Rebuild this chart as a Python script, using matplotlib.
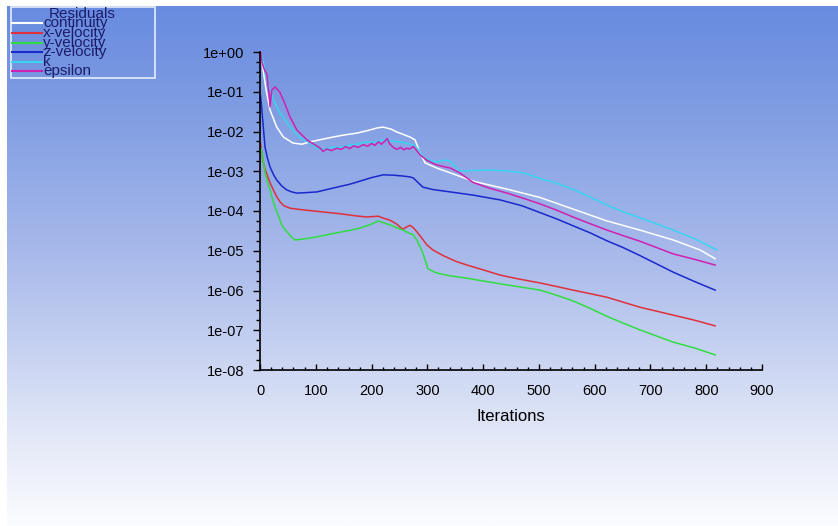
import numpy as np
import matplotlib
matplotlib.use("Agg")
import matplotlib.pyplot as plt
from matplotlib.lines import Line2D
from matplotlib.patches import Rectangle
from matplotlib.ticker import FixedLocator, FuncFormatter, MultipleLocator

plt.rcParams['font.family'] = ['Liberation Sans', 'DejaVu Sans']

# residual histories (iteration, log10 of residual)
cont_it = [1, 5, 11, 18, 30, 42, 59, 75, 90, 110, 131, 150, 174, 195, 210, 221, 235, 245, 258, 269,
           278, 287, 296, 317, 341, 382, 443, 502, 561, 622, 681, 741, 789, 816]
cont_lg = [-0.08, -0.4, -0.96, -1.46, -1.89, -2.14, -2.29, -2.32, -2.26, -2.2, -2.14, -2.09, -2.04,
           -1.97, -1.91, -1.89, -1.94, -2.01, -2.08, -2.14, -2.21, -2.54, -2.79, -2.92, -3.04, -3.25,
           -3.45, -3.66, -3.95, -4.25, -4.48, -4.73, -4.98, -5.2]

xvel_it = [1, 3, 5, 9, 14, 19, 24, 30, 36, 42, 54, 70, 90, 110, 131, 150, 170, 191, 203, 212, 221,
           233, 245, 256, 263, 269, 275, 281, 290, 299, 310, 328, 350, 371, 400, 430, 460, 502, 532,
           561, 592, 622, 681, 741, 780, 816]
xvel_lg = [-2.3, -2.5, -2.72, -2.95, -3.14, -3.32, -3.47, -3.64, -3.77, -3.86, -3.93, -3.96, -3.99,
           -4.02, -4.05, -4.08, -4.12, -4.15, -4.14, -4.13, -4.18, -4.23, -4.33, -4.46, -4.4, -4.36,
           -4.42, -4.52, -4.68, -4.85, -4.98, -5.12, -5.26, -5.36, -5.48, -5.61, -5.7, -5.81, -5.9,
           -5.99, -6.08, -6.17, -6.42, -6.62, -6.75, -6.89]

yvel_it = [1, 3, 6, 9, 13, 18, 22, 27, 33, 39, 45, 50, 57, 63, 80, 102, 130, 160, 179, 200, 212, 222,
           233, 245, 256, 266, 275, 282, 287, 292, 296, 301, 310, 317, 340, 371, 400, 443, 502, 532,
           561, 592, 622, 651, 681, 741, 780, 816]
yvel_lg = [-2.4, -2.5, -2.75, -3.04, -3.25, -3.47, -3.68, -3.9, -4.12, -4.35, -4.47, -4.55, -4.66,
           -4.73, -4.7, -4.65, -4.57, -4.49, -4.43, -4.33, -4.25, -4.3, -4.35, -4.42, -4.48, -4.55,
           -4.6, -4.75, -4.9, -5.06, -5.23, -5.45, -5.52, -5.56, -5.63, -5.69, -5.76, -5.86, -5.99,
           -6.12, -6.26, -6.45, -6.65, -6.82, -6.99, -7.3, -7.45, -7.62]

zvel_it = [1, 3, 6, 9, 13, 18, 24, 30, 39, 48, 57, 66, 80, 102, 120, 138, 160, 179, 200, 221, 240,
           256, 268, 275, 283, 292, 310, 341, 382, 430, 470, 502, 532, 561, 592, 622, 651, 681, 741,
           780, 816]
zvel_lg = [-1.1, -1.4, -1.9, -2.39, -2.65, -2.89, -3.08, -3.22, -3.37, -3.47, -3.52, -3.55, -3.54,
           -3.52, -3.46, -3.4, -3.33, -3.25, -3.16, -3.09, -3.1, -3.12, -3.14, -3.17, -3.28, -3.4,
           -3.46, -3.52, -3.6, -3.72, -3.87, -4.04, -4.2, -4.37, -4.55, -4.75, -4.92, -5.12, -5.54,
           -5.78, -5.99]

k_it = [3, 6, 12, 24, 36, 54, 72, 90, 102, 115, 131, 145, 161, 175, 191, 205, 221, 236, 251, 263,
        275, 284, 292, 305, 317, 330, 341, 358, 380, 412, 440, 472, 502, 532, 561, 592, 622, 651,
        681, 741, 780, 819]
k_lg = [-0.1, -0.25, -0.7, -1.2, -1.54, -1.89, -2.16, -2.29, -2.42, -2.45, -2.39, -2.4, -2.34, -2.32,
        -2.26, -2.27, -2.21, -2.24, -2.26, -2.3, -2.34, -2.45, -2.64, -2.72, -2.77, -2.72, -2.74,
        -3.0, -2.98, -2.97, -2.99, -3.04, -3.18, -3.3, -3.45, -3.65, -3.85, -4.02, -4.17, -4.48,
        -4.7, -4.98]

eps_it = [1, 4, 8, 12, 16, 18, 21, 27, 35, 42, 54, 66, 84, 100, 108, 113, 120, 128, 138, 146, 153,
          161, 168, 176, 185, 193, 200, 206, 212, 218, 224, 228, 232, 238, 245, 252, 258, 263, 268,
          275, 281, 287, 299, 310, 317, 328, 341, 358, 382, 410, 443, 472, 502, 532, 561, 592, 622,
          651, 681, 741, 780, 816]
eps_lg = [0.0, -0.3, -0.45, -0.55, -1.0, -1.38, -0.96, -0.88, -1.0, -1.21, -1.64, -1.96, -2.21,
          -2.35, -2.42, -2.5, -2.44, -2.48, -2.42, -2.45, -2.38, -2.43, -2.36, -2.4, -2.33, -2.37,
          -2.3, -2.35, -2.26, -2.32, -2.24, -2.18, -2.3, -2.39, -2.45, -2.4, -2.46, -2.42, -2.44,
          -2.38, -2.48, -2.59, -2.72, -2.8, -2.84, -2.88, -2.92, -3.04, -3.28, -3.42, -3.55, -3.68,
          -3.82, -3.98, -4.15, -4.32, -4.48, -4.62, -4.76, -5.08, -5.22, -5.36]

names = ['continuity', 'x-velocity', 'y-velocity', 'z-velocity', 'k', 'epsilon']
colors = ['#ffffff', '#e0303a', '#30dd40', '#1a28cc', '#38d4f0', '#d020b0']
series = [(cont_it, cont_lg), (xvel_it, xvel_lg), (yvel_it, yvel_lg),
          (zvel_it, zvel_lg), (k_it, k_lg), (eps_it, eps_lg)]

W, H = 838, 526
fig = plt.figure(figsize=(W / 100, H / 100), dpi=100)
fig.patch.set_facecolor('white')

# gradient background (blue at the top fading to white)
bg = fig.add_axes([7 / W, 0, 1 - 7 / W, 1 - 6 / H], zorder=0)
rows = np.linspace(6, 526, 400)
stops_y = [6, 100, 260, 440, 526]
stops_c = np.array([[104, 139, 224], [125, 155, 226], [170, 187, 235],
                    [228, 233, 248], [251, 252, 255]]) / 255.0
grad = np.stack([np.interp(rows, stops_y, stops_c[:, i]) for i in range(3)], axis=1)
bg.imshow(grad[:, None, :], aspect='auto', interpolation='bilinear')
bg.set_axis_off()

# plot area in pixel terms
x0, x1, y0, y1 = 260, 762, 52, 370
ax = fig.add_axes([x0 / W, 1 - y1 / H, (x1 - x0) / W, (y1 - y0) / H], zorder=1)
ax.set_facecolor('none')

for (it, lg), c in zip(series, colors):
    ax.plot(it, 10.0 ** np.array(lg), color=c, lw=1.1)

ax.set_yscale('log')
ax.set_ylim(1e-8, 1)
ax.set_xlim(0, 900)
ax.xaxis.set_major_locator(MultipleLocator(100))
ax.xaxis.set_minor_locator(MultipleLocator(20))
ax.yaxis.set_major_locator(FixedLocator([10.0 ** e for e in range(-8, 1)]))
ax.yaxis.set_minor_locator(FixedLocator([10.0 ** (e + f) for e in range(-8, 0)
                                         for f in (0.25, 0.5, 0.75)]))
ax.yaxis.set_major_formatter(FuncFormatter(lambda v, p: f"{v:.0e}"))
ax.yaxis.set_minor_formatter(FuncFormatter(lambda v, p: ""))

for s in ('top', 'right'):
    ax.spines[s].set_visible(False)
for s in ('left', 'bottom'):
    ax.spines[s].set_linewidth(1.2)
    ax.spines[s].set_color('black')

ax.tick_params(axis='y', which='major', direction='out', length=5, width=1, pad=6, labelsize=10.5)
ax.tick_params(axis='y', which='minor', direction='out', length=3, width=1)
ax.tick_params(axis='x', which='major', direction='in', length=4, width=1, pad=10, labelsize=10.5)
ax.tick_params(axis='x', which='minor', direction='in', length=2.5, width=1)
ax.set_xlabel('Iterations', fontsize=12, labelpad=8)

# legend drawn by hand: Fluent packs the rows tighter than matplotlib allows
def fx(px):
    return px / W

def fy(py):
    return 1 - py / H

fig.add_artist(Rectangle((fx(11), fy(78)), fx(155) - fx(11), fy(7) - fy(78),
                         transform=fig.transFigure, fill=False,
                         edgecolor='#dce6f6', lw=1.3, zorder=3))
leg_font = dict(fontsize=11, color='#1c1c6a', va='center', zorder=4)
fig.text(fx(82), fy(14), 'Residuals', ha='center', **leg_font)
row_y = [23, 33, 43, 52, 62, 71]
for name, c, ry in zip(names, colors, row_y):
    fig.add_artist(Line2D([fx(12), fx(42)], [fy(ry), fy(ry)], transform=fig.transFigure,
                          color=c, lw=1.5, zorder=3))
    fig.text(fx(43), fy(ry), name, ha='left', **leg_font)

fig.savefig('out.png', dpi=100, facecolor=fig.get_facecolor())
